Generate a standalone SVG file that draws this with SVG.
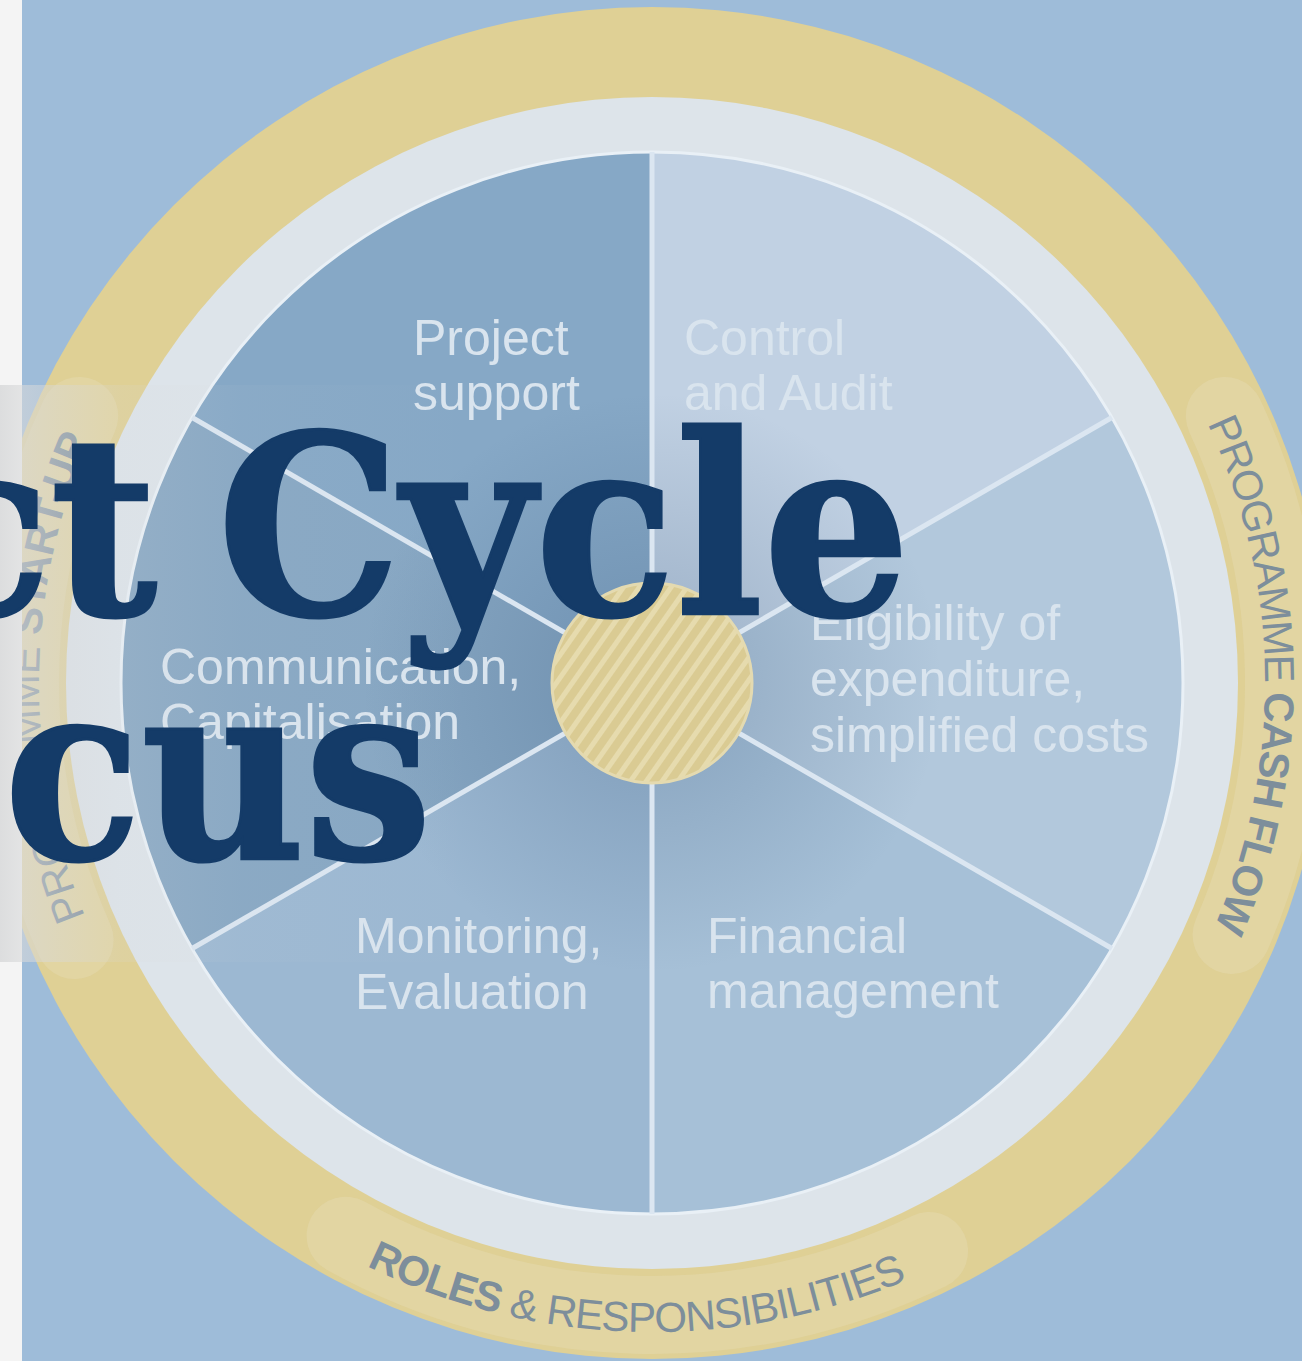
<svg xmlns="http://www.w3.org/2000/svg" width="1302" height="1361" viewBox="0 0 1302 1361">
<defs>
<style>
.lbl{font-family:"Liberation Sans",Arial,sans-serif;font-size:50px;fill:#d9e4ee;}
.ring{font-family:"Liberation Sans",Arial,sans-serif;font-size:42px;fill:#7d8e9b;}
.b{font-weight:bold;}
.title{font-family:"DejaVu Serif","Liberation Serif",serif;font-weight:bold;font-size:250px;fill:#143b68;stroke:#143b68;stroke-width:3;}
.spoke{stroke:#dbe6f1;stroke-width:5;}
.patch{fill:none;stroke:#e7ddb6;stroke-width:78;stroke-linecap:round;opacity:.4;}
</style>
<pattern id="hatch" width="13" height="13" patternUnits="userSpaceOnUse" patternTransform="rotate(35)">
<rect width="13" height="13" fill="#dacb93"/><rect width="5" height="13" fill="#e6dbae"/>
</pattern>
<radialGradient id="shade" cx="652" cy="683" r="290" gradientUnits="userSpaceOnUse">
<stop offset="0.3" stop-color="#34557a" stop-opacity="0.2"/>
<stop offset="1" stop-color="#34557a" stop-opacity="0"/>
</radialGradient>
<linearGradient id="wash" x1="0" y1="0" x2="480" y2="0" gradientUnits="userSpaceOnUse">
<stop offset="0" stop-color="#d8d9da" stop-opacity="0.85"/>
<stop offset="0.046" stop-color="#d8d9da" stop-opacity="0.6"/>
<stop offset="0.125" stop-color="#d8d9da" stop-opacity="0.42"/>
<stop offset="0.25" stop-color="#d8d9da" stop-opacity="0.16"/>
<stop offset="0.5" stop-color="#d8d9da" stop-opacity="0.05"/>
<stop offset="1" stop-color="#d8d9da" stop-opacity="0"/>
</linearGradient>
<path id="pRight" d="M1115.6,282 A613,613 0 0 1 1127.4,1070"/>
<path id="pLeft" d="M179,1072.9 A613,613 0 0 1 185.9,284.9"/>
<path id="pBottom" d="M222,1169.1 A649,649 0 0 0 1056,1190.9"/>
</defs>

<rect x="0" y="0" width="1302" height="1361" fill="#9ebcd9"/>

<g id="outer-ring">
<circle cx="652" cy="683" r="676" fill="#dfd095"/>
<path class="patch" d="M74.6,940 A632,632 0 0 1 79.2,415.9"/>
<path class="patch" d="M1224.8,415.9 A632,632 0 0 1 1231.6,935"/>
<path class="patch" d="M345.6,1235.7 A632,632 0 0 0 929.1,1251"/>
<circle cx="652" cy="683" r="586" fill="#dde4ea"/>
</g>

<g id="ring-labels">
<text class="ring" letter-spacing="-0.5"><textPath href="#pLeft" startOffset="50%" text-anchor="middle">PROGRAMME <tspan class="b">START-UP</tspan></textPath></text>
<text class="ring" letter-spacing="-1.5"><textPath href="#pRight" startOffset="50%" text-anchor="middle">PROGRAMME <tspan class="b">CASH FLOW</tspan></textPath></text>
<text class="ring" font-size="45" letter-spacing="-1"><textPath href="#pBottom" startOffset="50%" text-anchor="middle"><tspan class="b">ROLES</tspan> &amp; RESPONSIBILITIES</textPath></text>
</g>

<g id="sector-control"><path d="M652,683 L652,152 A531,531 0 0 1 1111.9,417.5 Z" fill="#c1d1e3"/></g>
<g id="sector-eligibility"><path d="M652,683 L1111.9,417.5 A531,531 0 0 1 1111.9,948.5 Z" fill="#b2c8dc"/></g>
<g id="sector-financial"><path d="M652,683 L1111.9,948.5 A531,531 0 0 1 652,1214 Z" fill="#a6c0d7"/></g>
<g id="sector-monitoring"><path d="M652,683 L652,1214 A531,531 0 0 1 192.1,948.5 Z" fill="#9cb8d2"/></g>
<g id="sector-communication"><path d="M652,683 L192.1,948.5 A531,531 0 0 1 192.1,417.5 Z" fill="#87a7c3"/></g>
<g id="sector-project"><path d="M652,683 L192.1,417.5 A531,531 0 0 1 652,152 Z" fill="#86a8c6"/></g>

<circle cx="652" cy="683" r="290" fill="url(#shade)"/>
<circle cx="652" cy="683" r="531" fill="none" stroke="#e9f0f6" stroke-width="3"/>

<g id="connectors">
<line class="spoke" x1="652" y1="683" x2="652" y2="152"/>
<line class="spoke" x1="652" y1="683" x2="1111.9" y2="417.5"/>
<line class="spoke" x1="652" y1="683" x2="1111.9" y2="948.5"/>
<line class="spoke" x1="652" y1="683" x2="652" y2="1214"/>
<line class="spoke" x1="652" y1="683" x2="192.1" y2="948.5"/>
<line class="spoke" x1="652" y1="683" x2="192.1" y2="417.5"/>
</g>

<g id="hub">
<circle cx="652" cy="683" r="100" fill="url(#hatch)" stroke="#e4dab0" stroke-width="3"/>
</g>

<g id="labels">
<text class="lbl" x="413" y="355">Project</text>
<text class="lbl" x="413" y="410">support</text>
<text class="lbl" x="684" y="355">Control</text>
<text class="lbl" x="684" y="410">and Audit</text>
<text class="lbl" x="160" y="684">Communication,</text>
<text class="lbl" x="160" y="739">Capitalisation</text>
<text class="lbl" x="810" y="640">Eligibility of</text>
<text class="lbl" x="810" y="696">expenditure,</text>
<text class="lbl" x="810" y="752">simplified costs</text>
<text class="lbl" x="355" y="953">Monitoring,</text>
<text class="lbl" x="355" y="1009">Evaluation</text>
<text class="lbl" x="707" y="953">Financial</text>
<text class="lbl" x="707" y="1008">management</text>
</g>

<rect x="0" y="0" width="22" height="1361" fill="#f4f4f4"/>
<rect x="0" y="385" width="480" height="577" fill="url(#wash)"/>

<g id="title">
<text class="title" x="-90" y="614" textLength="1000" lengthAdjust="spacingAndGlyphs" word-spacing="-22">ct Cycle</text>
<text class="title" x="4" y="858" textLength="428" lengthAdjust="spacingAndGlyphs">cus</text>
</g>
</svg>
